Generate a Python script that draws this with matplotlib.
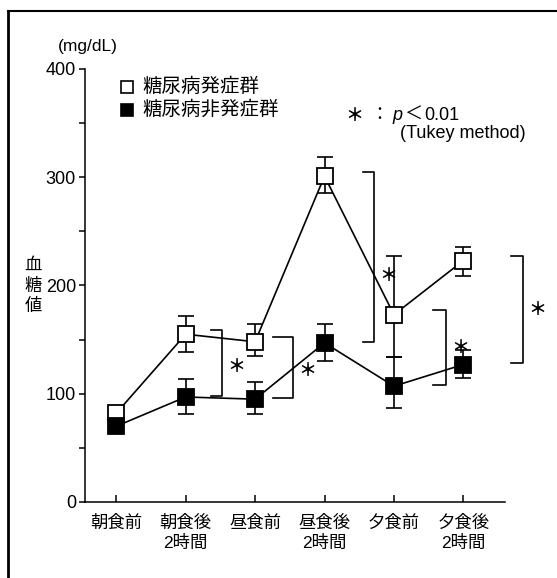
import matplotlib
matplotlib.use("Agg")
import matplotlib.pyplot as plt
from matplotlib.lines import Line2D
from matplotlib.ticker import MultipleLocator

plt.rcParams['font.family'] = ['Liberation Sans', 'Noto Sans CJK JP', 'DejaVu Sans']

categories = ['朝食前', '朝食後\n2時間', '昼食前', '昼食後\n2時間', '夕食前', '夕食後\n2時間']
onset_vals = [82, 155, 148, 301, 173, 223]
onset_err_lo = [5, 16, 13, 16, 39, 14]
onset_err_hi = [5, 17, 16, 18, 54, 13]
non_vals = [70, 97, 95, 147, 107, 127]
non_err_lo = [4, 16, 14, 17, 20, 12]
non_err_hi = [4, 17, 16, 17, 27, 13]
legend_labels = ['糖尿病発症群', '糖尿病非発症群']
sig_idx = [1, 2, 3, 4, 5]
yticks = [0, 100, 200, 300, 400]

# bracket style (x offsets in category units, star vertical fraction)
br_x0 = [0.36, 0.26, 0.55, 0.56, 0.69]
br_x1 = [0.53, 0.55, 0.72, 0.75, 0.86]
star_frac = [0.45, 0.45, 0.39, 0.5, 0.5]

W, H = 557, 578
fig = plt.figure(figsize=(W / 100, H / 100), dpi=100)
ax = fig.add_axes([85 / W, 76 / H, 420 / W, 433 / H])

x = list(range(len(categories)))
lw = 1.2
ax.errorbar(x, onset_vals, yerr=[onset_err_lo, onset_err_hi], fmt='none',
            ecolor='black', elinewidth=lw, capsize=6, capthick=lw, zorder=2)
ax.errorbar(x, non_vals, yerr=[non_err_lo, non_err_hi], fmt='none',
            ecolor='black', elinewidth=lw, capsize=6, capthick=lw, zorder=2)
ax.plot(x, onset_vals, '-', color='black', lw=lw, zorder=3)
ax.plot(x, non_vals, '-', color='black', lw=lw, zorder=3)
ax.plot(x, onset_vals, 's', ms=11, mfc='white', mec='black', mew=1.3, zorder=4, ls='none')
ax.plot(x, non_vals, 's', ms=11, mfc='black', mec='black', mew=1.3, zorder=4, ls='none')

for k, i in enumerate(sig_idx):
    top = onset_vals[i] + 4
    bot = non_vals[i] + 1
    xa = i + br_x0[k]
    xb = i + br_x1[k]
    ax.plot([xa, xb, xb, xa], [top, top, bot, bot], color='black', lw=lw,
            clip_on=False, zorder=3)
    ax.text(xb + 0.2, bot + (top - bot) * star_frac[k], '＊', fontsize=13,
            fontweight='bold', ha='center', va='center',
            family=['Noto Sans CJK JP'], clip_on=False)

ax.set_xlim(-0.45, 5.6)
ax.set_ylim(0, 400)
ax.set_xticks(x)
ax.set_xticklabels(categories, fontsize=12.5, linespacing=1.35)
ax.set_yticks(yticks)
ax.set_yticklabels([str(v) for v in yticks], fontsize=13)
ax.yaxis.set_minor_locator(MultipleLocator(50))
ax.tick_params(axis='y', which='both', direction='out', length=4, width=1.1, pad=2.5)
ax.tick_params(axis='x', which='major', direction='in', length=5, width=1.1, pad=9)
for s in ['top', 'right']:
    ax.spines[s].set_visible(False)
for s in ['left', 'bottom']:
    ax.spines[s].set_linewidth(1.1)

def fx(px):
    return px / W

def fy(py):
    return 1 - py / H

fig.text(fx(58), fy(47), '(mg/dL)', fontsize=12.5, ha='left', va='center')
for ch, py in zip('血糖値', [265, 286, 306]):
    fig.text(fx(33), fy(py), ch, fontsize=12.5, ha='center', va='center')

# legend
fig.add_artist(Line2D([fx(127)], [fy(87)], transform=fig.transFigure, marker='s', ms=8.5,
                      mfc='white', mec='black', mew=1.2, ls='none'))
fig.add_artist(Line2D([fx(127)], [fy(110)], transform=fig.transFigure, marker='s', ms=8.5,
                      mfc='black', mec='black', mew=1.2, ls='none'))
fig.text(fx(142), fy(87), legend_labels[0], fontsize=14, ha='left', va='center')
fig.text(fx(142), fy(110), legend_labels[1], fontsize=14, ha='left', va='center')

fig.text(fx(345), fy(115), '＊', fontsize=13, fontweight='bold', ha='left', va='center',
         family=['Noto Sans CJK JP'])
fig.text(fx(370), fy(115), '：', fontsize=13, ha='left', va='center',
         family=['Noto Sans CJK JP'])
fig.text(fx(392), fy(115), 'p', fontsize=13, style='italic', ha='left', va='center')
fig.text(fx(404), fy(115), '＜', fontsize=13, ha='left', va='center',
         family=['Noto Sans CJK JP'])
fig.text(fx(424), fy(115), '0.01', fontsize=13, ha='left', va='center')
fig.text(fx(400), fy(133), '(Tukey method)', fontsize=13, ha='left', va='center')

# scan border
fig.add_artist(Line2D([fx(8), fx(557)], [fy(11), fy(11)], transform=fig.transFigure,
                      color='black', lw=1.5))
fig.add_artist(Line2D([fx(8), fx(8)], [fy(11), fy(578)], transform=fig.transFigure,
                      color='black', lw=2))

fig.savefig('out.png', dpi=100)
